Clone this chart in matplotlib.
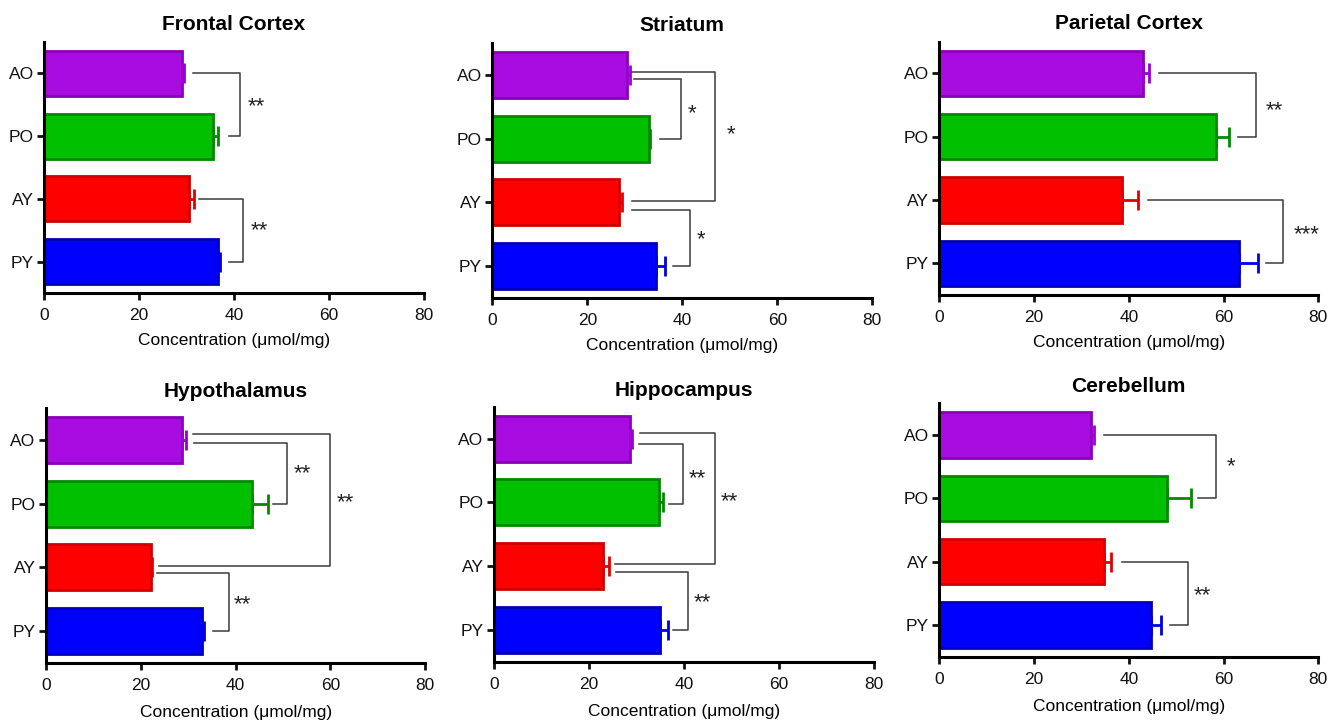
import matplotlib.pyplot as plt

plt.rcParams["font.family"] = ["Liberation Sans", "DejaVu Sans"]

groups = ["AO", "PO", "AY", "PY"]
regions = ["Frontal Cortex", "Striatum", "Parietal Cortex",
           "Hypothalamus", "Hippocampus", "Cerebellum"]

# mean and SEM per group (AO, PO, AY, PY)
frontal_mean = [29.0, 35.6, 30.5, 36.7]
frontal_sem = [0.4, 1.1, 1.0, 0.4]
striatum_mean = [28.4, 33.0, 26.6, 34.5]
striatum_sem = [0.6, 0.2, 0.8, 1.9]
parietal_mean = [42.9, 58.5, 38.6, 63.2]
parietal_sem = [1.4, 2.6, 3.3, 4.1]
hypothal_mean = [28.6, 43.5, 22.1, 32.8]
hypothal_sem = [0.9, 3.4, 0.2, 0.6]
hippo_mean = [28.6, 34.7, 23.0, 34.9]
hippo_sem = [0.5, 1.0, 1.3, 1.8]
cerebellum_mean = [32.0, 48.0, 34.7, 44.7]
cerebellum_sem = [0.6, 5.1, 1.5, 2.1]

# significance brackets:
# (group a, group b, start x at a, start x at b, bracket x, dy a, dy b, stars, star x, star y)
frontal_brackets = [(0, 1, 31.3, 39.0, 41.3, 0, 0, "**", 44.8, 0.47),
                    (2, 3, 32.6, 39.0, 41.9, 0, 0, "**", 45.4, 2.45)]
striatum_brackets = [(0, 1, 29.8, 35.3, 39.8, 0.06, 0, "*", 42.0, 0.55),
                     (0, 2, 29.5, 29.4, 46.9, -0.05, -0.02, "*", 50.2, 0.88),
                     (2, 3, 29.5, 38.0, 41.6, 0.12, 0, "*", 44.0, 2.53)]
parietal_brackets = [(0, 1, 46.4, 63.0, 66.9, 0, 0, "**", 70.8, 0.53),
                     (2, 3, 44.0, 68.9, 72.6, 0, 0, "***", 77.5, 2.49)]
hypothal_brackets = [(0, 1, 31.2, 47.8, 50.9, 0.04, 0, "**", 54.1, 0.47),
                     (0, 2, 30.9, 23.8, 59.8, -0.1, -0.02, "**", 63.1, 0.92),
                     (2, 3, 23.5, 35.3, 38.5, 0.09, 0, "**", 41.4, 2.53)]
hippo_brackets = [(0, 1, 30.5, 36.8, 39.9, 0.09, 0.02, "**", 42.9, 0.57),
                  (0, 2, 30.7, 25.4, 46.6, -0.08, -0.03, "**", 49.6, 0.93),
                  (2, 3, 25.8, 37.8, 40.9, 0.1, 0, "**", 43.8, 2.51)]
cerebellum_brackets = [(0, 1, 34.7, 54.7, 58.5, 0, 0, "*", 61.5, 0.44),
                       (2, 3, 38.6, 48.8, 52.4, 0, 0, "**", 55.5, 2.47)]

means = [frontal_mean, striatum_mean, parietal_mean,
         hypothal_mean, hippo_mean, cerebellum_mean]
sems = [frontal_sem, striatum_sem, parietal_sem,
        hypothal_sem, hippo_sem, cerebellum_sem]
brackets = [frontal_brackets, striatum_brackets, parietal_brackets,
            hypothal_brackets, hippo_brackets, cerebellum_brackets]

fill_colors = ["#A80CE0", "#00C000", "#FF0000", "#0000FF"]
edge_colors = ["#8A00B8", "#008A00", "#D00000", "#0000B8"]
err_colors = ["#9A00D0", "#008A00", "#E00000", "#0000E0"]

# axes boxes in pixels: left, top, right, bottom
boxes = [(44.3, 42, 423.7, 293), (492.3, 43.3, 872.3, 297.7), (939.3, 41.7, 1318.3, 295),
         (46, 408.3, 425.3, 662.7), (494, 406.7, 873.7, 661.7), (939.3, 403.3, 1318.3, 656.7)]
W, H = 1340, 724

fig = plt.figure(figsize=(W / 100, H / 100), dpi=100)

for k in range(6):
    l, t, r, b = boxes[k]
    ax = fig.add_axes([l / W, (H - b) / H, (r - l) / W, (b - t) / H])
    ypos = list(range(len(groups)))
    ax.barh(ypos, means[k], height=0.72, color=fill_colors,
            edgecolor=edge_colors, linewidth=2, zorder=2)
    for i in ypos:
        ax.errorbar(means[k][i], i, xerr=[[0], [sems[k][i]]], fmt="none",
                    ecolor=err_colors[i], elinewidth=2, capsize=7, capthick=2, zorder=3)
    for (a, bb, xa, xb, lev, dya, dyb, stars, sx, sy) in brackets[k]:
        ax.plot([xa, lev, lev, xb], [a + dya, a + dya, bb + dyb, bb + dyb],
                color="#3a3a3a", lw=1.1, zorder=1, clip_on=False)
        ax.text(sx, sy + 0.06, stars, ha="center", va="center", fontsize=16, color="#222222")

    ax.set_xlim(0, 80)
    ax.set_ylim(3.5, -0.5)
    ax.set_xticks([0, 20, 40, 60, 80])
    ax.set_yticks(ypos)
    ax.set_yticklabels(groups)
    ax.spines["top"].set_visible(False)
    ax.spines["right"].set_visible(False)
    ax.spines["left"].set_linewidth(2.2)
    ax.spines["bottom"].set_linewidth(2.2)
    ax.tick_params(axis="both", length=5, width=2, labelsize=12.5, colors="#111111")
    ax.tick_params(axis="y", pad=2.5)
    ax.tick_params(axis="x", pad=6)
    ax.set_title(regions[k], fontsize=15, fontweight="bold", pad=9 if k < 3 else 8)
    ax.set_xlabel("Concentration (μmol/mg)", fontsize=12.5, labelpad=7 if k < 3 else 9)

fig.savefig("out.png", dpi=100)
